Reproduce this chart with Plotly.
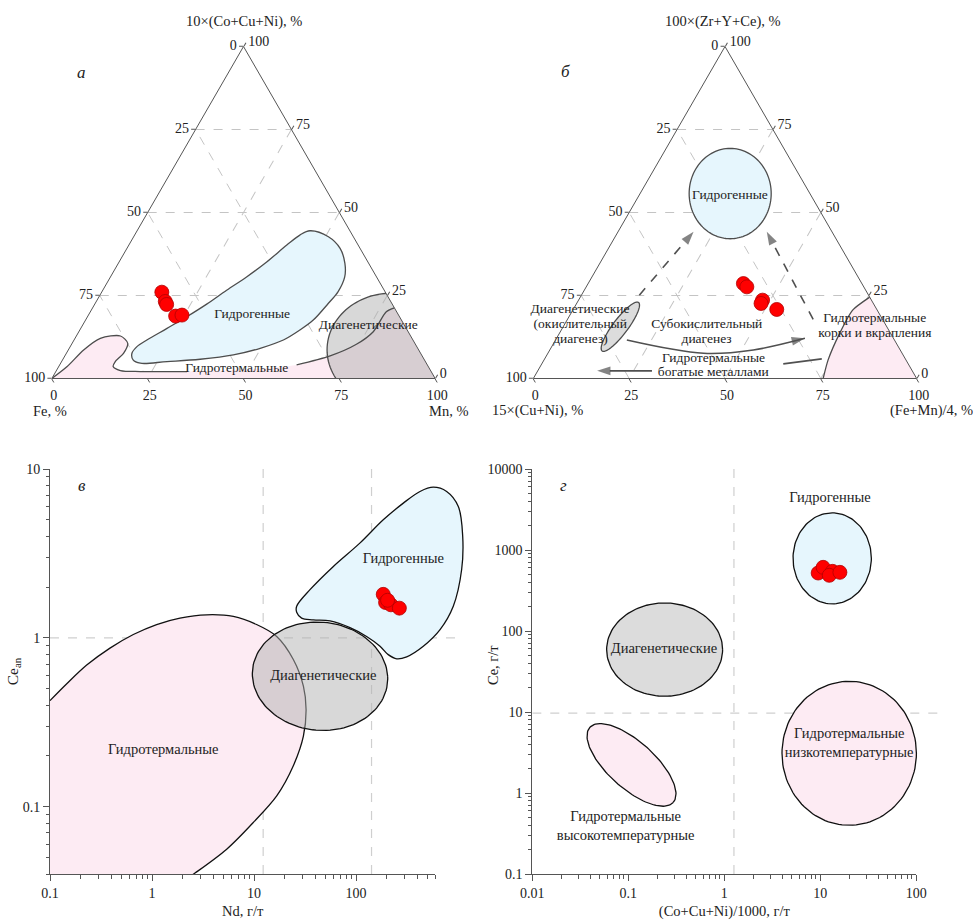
import math
import plotly.graph_objects as go

FONT = "Liberation Serif"
EDGE = "#4d4d4d"
PINK = "#fdebf3"
BLUE = "#e6f6fd"
GRAY = "rgba(178,178,178,0.5)"
RED = "#ff0000"
GRID = "#c4c4c4"

# ---------------- ternary tick labels ----------------
TERN_TICKS = [0, 25, 50, 75, 100]
TERN_TICKTEXT = ["100", "75", "50", "25", "0"]

# ---------------- Panel а : top = 10×(Co+Cu+Ni), left = Fe, right = Mn ----------------
A_TITLES = ["10×(Co+Cu+Ni), %", "Fe, %", "Mn, %"]
A_SAMPLE_TOP = [26.0, 23.2, 22.3, 18.8, 19.1]
A_SAMPLE_MN = [15.7, 18.0, 18.8, 22.9, 24.4]

A_HYDROG_TOP = [26.6, 30.6, 35.1, 40.2, 43.2, 44.5, 42.7, 39.2, 34.7, 30.6, 26.1, 22.6, 17.6, 14.6,
                11.6, 9.1, 7.1, 5.8, 5.1, 4.6, 5.6, 7.6, 9.6, 11.6, 15.1, 18.6, 22.4, 26.6]
A_HYDROG_MN = [32.3, 35.5, 38.5, 41.2, 43.1, 45.1, 50.8, 55.6, 59.1, 61.1, 61.6, 60.8, 59.4, 57.4,
               54.6, 49.8, 43.8, 35.8, 27.5, 20.8, 18.4, 17.1, 17.4, 19.0, 22.5, 25.9, 29.2, 32.3]

# hydrothermal field boundary: part before the label, part under the label, part after it
A_HT1_TOP = [0.0, 3.6, 8.6, 12.1, 12.8, 10.6, 7.6, 5.1, 3.6, 2.4, 2.1, 2.1]
A_HT1_MN = [0.0, 2.2, 4.0, 6.6, 11.5, 14.5, 14.9, 14.0, 14.2, 16.7, 22.0, 34.2]
A_HT_GAP_TOP = [2.6]
A_HT_GAP_MN = [47.8]
A_HT2_TOP = [4.1, 6.8, 10.3, 14.1, 20.1, 21.3]
A_HT2_MN = [61.8, 69.2, 74.3, 76.8, 77.2, 78.7]
A_HT_OUT_TOP = [30.0, -10.0, -10.0]
A_HT_OUT_MN = [80.0, 120.0, -10.0]

A_DIAG_CENTER = [8.6, 84.4]
A_DIAG_U = [0.0, 16.9]
A_DIAG_V = [17.1, -8.6]

A_LABELS = ["Гидрогенные", "Диагенетические", "Гидротермальные"]
A_LABEL_TOP = [19.3, 15.9, 2.9]
A_LABEL_MN = [42.6, 74.6, 46.8]

# ---------------- Panel б : top = 100×(Zr+Y+Ce), left = 15×(Cu+Ni), right = (Fe+Mn)/4 ----------------
B_TITLES = ["100×(Zr+Y+Ce), %", "15×(Cu+Ni), %", "(Fe+Mn)/4, %"]
B_SAMPLE_TOP = [28.6, 27.6, 23.6, 22.6, 20.8]
B_SAMPLE_RIGHT = [40.5, 41.9, 48.0, 48.1, 53.1]

B_HYDROG_CENTER = [55.7, 23.5]
B_HYDROG_U = [0.0, 10.7]
B_HYDROG_V = [13.6, -6.8]

B_DIAG_CENTER = [15.6, 14.9]
B_DIAG_U = [7.3, 1.1]
B_DIAG_V = [-1.35, 2.24]

B_HT_TOP = [0.0, 5.6, 13.6, 20.6, 24.5]
B_HT_RIGHT = [75.6, 74.1, 73.1, 73.0, 75.5]
B_HT_OUT_TOP = [30.0, -10.0, -10.0, -4.0]
B_HT_OUT_RIGHT = [76.0, 115.0, 77.0, 76.0]

B_ARROW_DASH1_TOP = [25.1, 44.2]
B_ARROW_DASH1_RIGHT = [15.1, 19.7]
B_ARROW_DASH2_TOP = [17.8, 44.2]
B_ARROW_DASH2_RIGHT = [64.1, 38.8]
B_ARROW_SUB_TOP = [11.6, 7.6, 8.6, 12.1]
B_ARROW_SUB_RIGHT = [18.6, 40.6, 53.1, 64.8]
B_ARROW_HT1_TOP = [5.9, 4.4]
B_ARROW_HT1_RIGHT = [72.3, 63.0]
B_ARROW_HT2_TOP = [2.3, 2.3]
B_ARROW_HT2_RIGHT = [29.8, 15.5]

B_LABELS = ["Гидрогенные", "Диагенетические", "(окислительный", "диагенез)",
            "Субокислительный", "диагенез", "Гидротермальные", "корки и вкрапления",
            "Гидротермальные", "богатые металлами"]
B_LABEL_TOP = [55.2, 20.6, 16.1, 11.6, 16.1, 11.6, 18.1, 13.6, 6.0, 1.7]
B_LABEL_RIGHT = [23.7, 1.9, 4.2, 6.5, 37.2, 39.4, 80.0, 82.3, 44.0, 46.1]

# ---------------- Panel в : Nd vs Ce_an ----------------
C_SAMPLE_ND = [185, 195, 220, 204, 266]
C_SAMPLE_CE = [1.81, 1.62, 1.57, 1.67, 1.50]

C_HYDROG_ND = [109, 185, 291, 424, 573, 774, 1007, 1112, 1086, 899, 667, 457, 314, 251, 207,
               172, 127, 87.3, 55.6, 38.2, 29.3, 26.2, 26.2, 35.4, 60.0, 109]
C_HYDROG_CE = [3.64, 5.00, 6.28, 7.36, 7.80, 7.36, 6.00, 3.99, 2.54, 1.54, 1.12, 0.893, 0.773,
               0.752, 0.796, 0.893, 1.02, 1.15, 1.26, 1.28, 1.31, 1.42, 1.54, 1.93, 2.65, 3.64]

C_HYDROTH_ND = [0.1, 0.146, 0.229, 0.387, 0.656, 1.11, 1.88, 3.44, 6.27, 10.6, 16.7, 24.3, 30.5,
                32.4, 30.5, 24.3, 16.7, 9.84, 5.40, 2.64, 1.39, 0.40, 0.04, 0.04, 0.0687]
C_HYDROTH_CE = [0.425, 0.535, 0.690, 0.870, 1.047, 1.20, 1.31, 1.37, 1.34, 1.20, 1.02, 0.745, 0.518,
                0.377, 0.262, 0.175, 0.116, 0.0807, 0.0561, 0.0405, 0.0311, 0.0178, 0.0178, 0.158, 0.335]

C_DIAG_CENTER = [44.4, 0.593]
C_DIAG_U = [0.663, 0.0]      # decades
C_DIAG_V = [-0.03, 0.321]

C_LABELS = ["Гидрогенные", "Диагенетические", "Гидротермальные"]
C_LABEL_ND = [291, 47.9, 1.29]
C_LABEL_CE = [2.93, 0.593, 0.216]

C_REF_X = [12.3, 142]
C_REF_Y = [1.0]
C_REF_Y_SPAN = [0.1, 1000]
C_XTICKS = [0.1, 1, 10, 100]
C_XTICKTEXT = ["0.1", "1", "10", "100"]
C_YTICKS = [0.1, 1, 10]
C_YTICKTEXT = ["0.1", "1", "10"]
C_XRANGE = [0.1, 600]
C_YRANGE = [0.04, 10]

# ---------------- Panel г : (Co+Cu+Ni)/1000 vs Ce ----------------
D_SAMPLE_X = [9.5, 10.7, 13.4, 12.4, 16.0]
D_SAMPLE_CE = [520, 611, 545, 487, 530]

D_HYDROG = dict(center=[13.3, 789], u=[0.408, 0.0], v=[0.0, 0.562])
D_DIAG = dict(center=[0.239, 58.9], u=[0.604, 0.0], v=[0.0, 0.576])
D_HT_LOW = dict(center=[20.0, 3.09], u=[0.700, 0.0], v=[0.0, 0.889])
D_HT_HIGH = dict(center=[0.108, 2.22], u=[0.434, -0.463], v=[-0.1625, -0.214])

D_LABELS = ["Гидрогенные", "Диагенетические", "Гидротермальные<br>низкотемпературные",
            "Гидротермальные<br>высокотемпературные"]
D_LABEL_X = [12.6, 0.235, 20.0, 0.0938]
D_LABEL_CE = [4300, 59, 4.06, 0.38]

D_REF_X = [1.26]
D_REF_Y = [9.7]
D_REF_Y_SPAN = [0.01, 170]
D_XTICKS = [0.01, 0.1, 1, 10, 100]
D_XTICKTEXT = ["0.01", "0.1", "1", "10", "100"]
D_YTICKS = [0.1, 1, 10, 100, 1000, 10000]
D_YTICKTEXT = ["0.1", "1", "10", "100", "1000", "10000"]
D_XRANGE = [0.01, 100]
D_YRANGE = [0.1, 10000]

PANEL_LETTERS = ["а", "б", "в", "г"]


# ---------------- helpers ----------------
def tern_ellipse(center, u, v, n=120):
    a, c = [], []
    for i in range(n + 1):
        t = 2 * math.pi * i / n
        a.append(center[0] + u[0] * math.cos(t) + v[0] * math.sin(t))
        c.append(center[1] + u[1] * math.cos(t) + v[1] * math.sin(t))
    return a, c


def log_ellipse(center, u, v, n=120):
    lx, ly = math.log10(center[0]), math.log10(center[1])
    xs, ys = [], []
    for i in range(n + 1):
        t = 2 * math.pi * i / n
        xs.append(10 ** (lx + u[0] * math.cos(t) + v[0] * math.sin(t)))
        ys.append(10 ** (ly + u[1] * math.cos(t) + v[1] * math.sin(t)))
    return xs, ys


def third(a, c):
    return [100 - x - y for x, y in zip(a, c)]


def tern(sub, a, c, **kw):
    return go.Scatterternary(a=a, b=third(a, c), c=c, subplot=sub, hoverinfo="skip",
                             showlegend=False, **kw)


LBL = dict(family=FONT, size=14.5, color="#222")
LBL_T = dict(family=FONT, size=13.5, color="#222")
MARK = dict(size=14, color=RED, line=dict(color="#b00000", width=0.8))

fig = go.Figure()

# ======== Panel а ========
ht_fill_top = A_HT1_TOP + A_HT_GAP_TOP + A_HT2_TOP + A_HT_OUT_TOP
ht_fill_mn = A_HT1_MN + A_HT_GAP_MN + A_HT2_MN + A_HT_OUT_MN
fig.add_trace(tern("ternary", ht_fill_top, ht_fill_mn, mode="lines", fill="toself",
                   fillcolor=PINK, line=dict(width=0, shape="spline", smoothing=0.8)))
fig.add_trace(tern("ternary", A_HYDROG_TOP, A_HYDROG_MN, mode="lines", fill="toself",
                   fillcolor=BLUE, line=dict(color=EDGE, width=1.3, shape="spline", smoothing=1)))
ea, ec = tern_ellipse(A_DIAG_CENTER, A_DIAG_U, A_DIAG_V)
fig.add_trace(tern("ternary", ea, ec, mode="lines", fill="toself", fillcolor=GRAY,
                   line=dict(color=EDGE, width=1.3)))
fig.add_trace(tern("ternary", A_HT1_TOP, A_HT1_MN, mode="lines",
                   line=dict(color=EDGE, width=1.3, shape="spline", smoothing=0.8)))
fig.add_trace(tern("ternary", A_HT2_TOP, A_HT2_MN, mode="lines",
                   line=dict(color=EDGE, width=1.3, shape="spline", smoothing=0.8)))
fig.add_trace(tern("ternary", A_SAMPLE_TOP, A_SAMPLE_MN, mode="markers", marker=MARK))
fig.add_trace(tern("ternary", A_LABEL_TOP, A_LABEL_MN, mode="text", text=A_LABELS,
                   textfont=LBL_T, cliponaxis=False))

# ======== Panel б ========
fig.add_trace(tern("ternary2", B_HT_TOP + B_HT_OUT_TOP, B_HT_RIGHT + B_HT_OUT_RIGHT, mode="lines",
                   fill="toself", fillcolor=PINK, line=dict(width=0, shape="spline", smoothing=0.6)))
fig.add_trace(tern("ternary2", B_HT_TOP, B_HT_RIGHT, mode="lines",
                   line=dict(color=EDGE, width=1.3, shape="spline", smoothing=0.6)))
ha, hc = tern_ellipse(B_HYDROG_CENTER, B_HYDROG_U, B_HYDROG_V)
fig.add_trace(tern("ternary2", ha, hc, mode="lines", fill="toself", fillcolor=BLUE,
                   line=dict(color=EDGE, width=1.3)))
da, dc = tern_ellipse(B_DIAG_CENTER, B_DIAG_U, B_DIAG_V)
fig.add_trace(tern("ternary2", da, dc, mode="lines", fill="toself", fillcolor="#dcdcdc",
                   line=dict(color=EDGE, width=1.3)))

ARROW_COL = "#505050"


def arrow(a, c, dash, shape="linear"):
    n = len(a)
    return tern("ternary2", a, c, mode="lines+markers",
                line=dict(color=ARROW_COL, width=1.6, dash=dash, shape=shape),
                marker=dict(symbol="arrow", size=[0] * (n - 1) + [14], color=ARROW_COL,
                            angleref="previous", line=dict(width=0)))


fig.add_trace(arrow(B_ARROW_DASH1_TOP, B_ARROW_DASH1_RIGHT, "dash"))
fig.add_trace(arrow(B_ARROW_DASH2_TOP, B_ARROW_DASH2_RIGHT, "dash"))
fig.add_trace(arrow(B_ARROW_SUB_TOP, B_ARROW_SUB_RIGHT, "solid", "spline"))
fig.add_trace(tern("ternary2", B_ARROW_HT1_TOP, B_ARROW_HT1_RIGHT, mode="lines",
                   line=dict(color=ARROW_COL, width=1.6)))
fig.add_trace(arrow(B_ARROW_HT2_TOP, B_ARROW_HT2_RIGHT, "solid"))
fig.add_trace(tern("ternary2", B_SAMPLE_TOP, B_SAMPLE_RIGHT, mode="markers", marker=MARK))
fig.add_trace(tern("ternary2", B_LABEL_TOP, B_LABEL_RIGHT, mode="text", text=B_LABELS,
                   textfont=LBL_T, cliponaxis=False))


# ======== Panel в ========
def sc(x, y, xa, ya, **kw):
    return go.Scatter(x=x, y=y, xaxis=xa, yaxis=ya, hoverinfo="skip", showlegend=False, **kw)


fig.add_trace(sc(C_HYDROTH_ND, C_HYDROTH_CE, "x", "y", mode="lines", fill="toself", fillcolor=PINK,
                 line=dict(color="#111", width=1.3, shape="spline", smoothing=0.9)))
gx, gy = log_ellipse(C_DIAG_CENTER, C_DIAG_U, C_DIAG_V)
fig.add_trace(sc(gx, gy, "x", "y", mode="lines", fill="toself", fillcolor=GRAY,
                 line=dict(color="#111", width=1.3)))
fig.add_trace(sc(C_HYDROG_ND, C_HYDROG_CE, "x", "y", mode="lines", fill="toself", fillcolor=BLUE,
                 line=dict(color="#111", width=1.3, shape="spline", smoothing=1)))
fig.add_trace(sc(C_SAMPLE_ND, C_SAMPLE_CE, "x", "y", mode="markers", marker=MARK))
fig.add_trace(sc(C_LABEL_ND, C_LABEL_CE, "x", "y", mode="text", text=C_LABELS, cliponaxis=False,
                 textfont=LBL))
# empty trace so that the visible bottom axis of panel в is created
fig.add_trace(sc([], [], "x3", "y", mode="markers"))

# ======== Panel г ========
for ell, col in [(D_HYDROG, BLUE), (D_DIAG, "#dcdcdc"), (D_HT_LOW, PINK), (D_HT_HIGH, PINK)]:
    ex, ey = log_ellipse(ell["center"], ell["u"], ell["v"])
    fig.add_trace(sc(ex, ey, "x2", "y2", mode="lines", fill="toself", fillcolor=col,
                     line=dict(color="#111", width=1.3)))
fig.add_trace(sc(D_SAMPLE_X, D_SAMPLE_CE, "x2", "y2", mode="markers", marker=MARK))
fig.add_trace(sc(D_LABEL_X, D_LABEL_CE, "x2", "y2", mode="text", text=D_LABELS, cliponaxis=False,
                 textfont=LBL))
fig.add_trace(sc([], [], "x4", "y2", mode="markers"))

# ---------------- reference dashed lines ----------------
REFLINE = dict(color="#cfcfcf", width=1.2, dash="dash")
shapes = []
for xv in C_REF_X:
    shapes.append(dict(type="line", xref="x", yref="y domain", x0=xv, x1=xv, y0=0, y1=1,
                       line=REFLINE, layer="below"))
for yv in C_REF_Y:
    shapes.append(dict(type="line", xref="x", yref="y", x0=C_REF_Y_SPAN[0], x1=C_REF_Y_SPAN[1],
                       y0=yv, y1=yv, line=REFLINE, layer="below"))
for xv in D_REF_X:
    shapes.append(dict(type="line", xref="x2", yref="y2 domain", x0=xv, x1=xv, y0=0, y1=1,
                       line=REFLINE, layer="below"))
for yv in D_REF_Y:
    shapes.append(dict(type="line", xref="x2", yref="y2", x0=D_REF_Y_SPAN[0], x1=D_REF_Y_SPAN[1],
                       y0=yv, y1=yv, line=REFLINE, layer="below"))

# ---------------- layout ----------------
W, H = 973, 920
TF = dict(family=FONT, size=14, color="#222")
TTL = dict(family=FONT, size=14.5, color="#222")


def tern_axis():
    return dict(title=dict(text=""), tickmode="array", tickvals=TERN_TICKS,
                ticktext=TERN_TICKTEXT, ticks="outside", ticklen=4, tickcolor="#555",
                tickfont=TF, showline=True, linecolor="#555", linewidth=1,
                showgrid=True, gridcolor=GRID, gridwidth=1, griddash="dash", min=0)


def ternary(xd):
    return dict(domain=dict(x=xd, y=[1 - 378.5 / H, 1 - 46.5 / H]), sum=100, bgcolor="white",
                aaxis=tern_axis(), baxis=tern_axis(), caxis=tern_axis())


def lg(v):
    return math.log10(v)


YDOM = [1 - 874 / H, 1 - 469 / H]
AXC = "#555"


def vis_log_axis(**kw):
    base = dict(type="log", showline=True, linecolor=AXC, linewidth=1, ticks="outside", ticklen=6,
                tickcolor=AXC, tickfont=TF, showgrid=False, zeroline=False, tickmode="array",
                automargin=False,
                minor=dict(ticks="outside", ticklen=3.5, tickcolor=AXC, dtick="D1", showgrid=False))
    base.update(kw)
    return base


C_DEC = 102.0
D_DEC = 96.0
C_X0 = 50.0
D_X0 = 532.3
C_DATA_MAX = 3.1
D_DATA_MAX = 2.25

fig.update_layout(
    width=W, height=H, margin=dict(l=0, r=0, t=0, b=0, autoexpand=False), paper_bgcolor="white",
    plot_bgcolor="rgba(0,0,0,0)", showlegend=False, font=TF,
    ternary=ternary([51.5 / W, 435.5 / W]),
    ternary2=ternary([533 / W, 917 / W]),
    xaxis=dict(type="log", domain=[C_X0 / W, (C_X0 + (C_DATA_MAX + 1) * C_DEC) / W],
               range=[lg(C_XRANGE[0]), C_DATA_MAX], visible=False, anchor="y", automargin=False),
    yaxis=vis_log_axis(domain=YDOM, range=[lg(C_YRANGE[0]), lg(C_YRANGE[1])], anchor="x",
                       tickvals=C_YTICKS, ticktext=C_YTICKTEXT,
                       title=dict(text="Ce<sub>an</sub>", font=dict(family=FONT, size=15.5, color="#222"),
                                  standoff=0)),
    xaxis3=vis_log_axis(domain=[C_X0 / W, (C_X0 + (lg(C_XRANGE[1]) + 1) * C_DEC) / W],
                        range=[lg(C_XRANGE[0]), lg(C_XRANGE[1])], anchor="y",
                        tickvals=C_XTICKS, ticktext=C_XTICKTEXT,
                        title=dict(text="Nd, г/т", font=TTL, standoff=6)),
    xaxis2=dict(type="log", domain=[D_X0 / W, (D_X0 + (D_DATA_MAX + 2) * D_DEC) / W],
                range=[lg(D_XRANGE[0]), D_DATA_MAX], visible=False, anchor="y2", automargin=False),
    yaxis2=vis_log_axis(domain=YDOM, range=[lg(D_YRANGE[0]), lg(D_YRANGE[1])], anchor="x2",
                        tickvals=D_YTICKS, ticktext=D_YTICKTEXT),
    xaxis4=vis_log_axis(domain=[D_X0 / W, (D_X0 + 4 * D_DEC) / W],
                        range=[lg(D_XRANGE[0]), lg(D_XRANGE[1])], anchor="y2",
                        tickvals=D_XTICKS, ticktext=D_XTICKTEXT,
                        title=dict(text="(Co+Cu+Ni)/1000, г/т", font=TTL, standoff=6)),
    shapes=shapes,
)


def ann(text, px, py, font, angle=0):
    fig.add_annotation(text=text, x=px / W, y=1 - py / H, xref="paper", yref="paper",
                       xanchor="center", yanchor="middle", showarrow=False, font=font,
                       textangle=angle)


# ternary vertex titles (top, bottom-left, bottom-right)
TITLE_POS = {
    "a": [(243.5, 21), (50, 411), (448, 411)],
    "b": [(723, 21), (537, 411), (931, 411)],
}
for titles, key in [(A_TITLES, "a"), (B_TITLES, "b")]:
    for t, (px, py) in zip(titles, TITLE_POS[key]):
        ann(t, px, py, TTL)

# y title of panel г (placed between the tick labels as in the source figure)
ann("Ce, г/т", 493, 665, TTL, angle=-90)

LETTER_POS = [(81.7, 72.7), (565, 71.7), (81.7, 485.7), (563, 485.7)]
for letter, (px, py) in zip(PANEL_LETTERS, LETTER_POS):
    ann(f"<i>{letter}</i>", px, py, dict(family=FONT, size=17, color="#222"))

fig.write_html("out.html", config={"displayModeBar": False},
               post_script="document.body.style.margin='0';document.body.style.overflow='hidden';")
